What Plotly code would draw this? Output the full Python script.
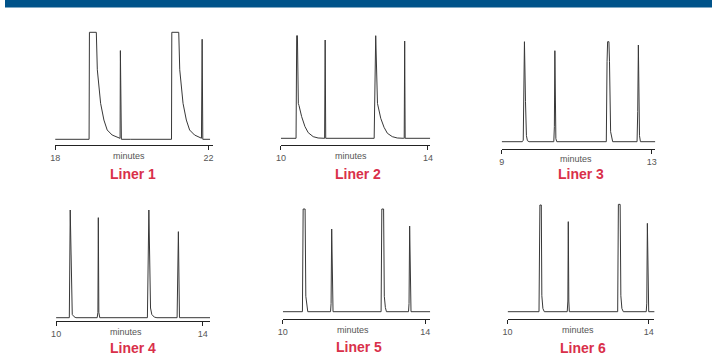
import plotly.graph_objects as go

W, H = 715, 359

# ---------------- data (minutes, relative detector signal) ----------------
liner1_t = [18.0, 18.886, 18.895, 19.075, 19.101, 19.144, 19.187, 19.273, 19.359, 19.488, 19.617, 19.677,
            19.695, 19.703, 19.712, 19.729, 19.961, 21.037, 21.045, 21.226, 21.252, 21.295, 21.338, 21.424,
            21.510, 21.639, 21.768, 21.819, 21.837, 21.845, 21.854, 22.043]
liner1_s = [0, 0, 100, 100, 65, 49, 33.6, 18, 8.7, 4, 1.9, 0.9,
            0.9, 82.9, 0.5, 0, 0, 0, 100, 100, 65, 49, 33.6, 18,
            8.7, 4, 1.9, 1, 93.5, 0.5, 0, 0]

liner2_t = [10.0, 10.413, 10.43, 10.45, 10.475, 10.493, 10.565, 10.655, 10.744, 10.879, 11.013, 11.175,
            11.19, 11.205, 11.22, 12.538, 12.56, 12.58, 12.628, 12.646, 12.717, 12.807, 12.897, 13.031,
            13.166, 13.34, 13.355, 13.368, 13.381, 14.063]
liner2_s = [0, 0, 100, 100, 34, 32, 21.1, 11.4, 5.5, 1.6, 0.3, 0,
            0, 95.8, 0, 0, 100, 100, 34, 31, 19.5, 10.7, 4.9, 1.6,
            0.3, 0, 0, 94.8, 0, 0]

liner3_t = [9.0, 9.55, 9.575, 9.582, 9.607, 9.635, 9.645, 9.66, 9.686, 9.73, 10.39, 10.405,
            10.418, 10.43, 10.445, 10.47, 11.79, 11.81, 11.825, 11.86, 11.875, 11.905, 11.93, 11.96,
            12.61, 12.628, 12.645, 12.66, 12.675, 12.70, 13.097]
liner3_s = [0, 0, 1.5, 40, 100, 40, 10, 6, 1, 0, 0, 15,
            91, 15, 3, 0, 0, 80, 100, 100, 80, 10, 4, 0,
            0, 30, 96.7, 30, 6, 0, 0]

liner4_t = [10.0, 10.36, 10.385, 10.41, 10.42, 10.44, 10.49, 10.54, 11.12, 11.14, 11.151, 11.165,
            11.19, 12.49, 12.53, 12.555, 12.575, 12.61, 12.68, 12.75, 13.30, 13.335, 13.365, 14.198]
liner4_s = [0, 0, 100, 40, 8.7, 3, 0.9, 0, 0, 5, 92.9, 5,
            0, 0, 100, 40, 9, 3, 0.5, 0, 0, 79.9, 0, 0]

liner5_t = [10.0, 10.55, 10.57, 10.625, 10.645, 10.67, 10.70, 11.34, 11.355, 11.372, 11.39, 11.41,
            12.76, 12.78, 12.83, 12.85, 12.88, 12.91, 13.53, 13.545, 13.562, 13.58, 13.60, 14.139]
liner5_s = [0, 0, 100, 100, 15, 4, 0, 0, 8, 80.5, 8, 0,
            0, 100, 100, 15, 4, 0, 0, 8, 83.4, 8, 0, 0]

liner6_t = [10.0, 10.89, 10.915, 10.955, 10.97, 11.0, 11.04, 11.69, 11.708, 11.72, 11.735, 11.75,
            13.12, 13.14, 13.19, 13.21, 13.24, 13.28, 13.93, 13.945, 13.962, 13.98, 14.0, 14.206]
liner6_s = [0, 0, 100, 100, 15, 3, 0, 0, 10, 84.4, 10, 0,
            0, 100.6, 100.6, 15, 3, 0, 0, 8, 82.8, 8, 0, 0]

liner_names = ["Liner 1", "Liner 2", "Liner 3", "Liner 4", "Liner 5", "Liner 6"]
tick_vals = [[18, 22], [10, 14], [9, 13], [10, 14], [10, 14], [10, 14]]
axis_label = "minutes"

series = [(liner1_t, liner1_s), (liner2_t, liner2_s), (liner3_t, liner3_s),
          (liner4_t, liner4_s), (liner5_t, liner5_s), (liner6_t, liner6_s)]

# ---------------- panel geometry (pixels) ----------------
geom = [
    dict(t0=50.7, t1=205.7, end=210.0, ax=145.0, base=139.3, top=32.3, lab=(125.0, 155.5), name=(129.0, 174.0)),
    dict(t0=279.0, t1=427.7, end=430.0, ax=145.0, base=138.3, top=35.7, lab=(350.0, 155.5), name=(356.7, 174.0)),
    dict(t0=502.3, t1=654.0, end=657.7, ax=149.3, base=141.7, top=41.7, lab=(577.0, 159.5), name=(582.3, 174.3)),
    dict(t0=51.7, t1=200.0, end=207.3, ax=321.0, base=317.7, top=210.0, lab=(122.7, 331.7), name=(129.0, 348.3)),
    dict(t0=281.0, t1=425.0, end=430.0, ax=319.0, base=311.7, top=209.0, lab=(352.3, 329.5), name=(358.3, 346.7)),
    dict(t0=508.3, t1=651.0, end=656.7, ax=319.0, base=311.7, top=205.0, lab=(579.3, 329.5), name=(585.0, 347.7)),
]

fig = go.Figure()
layout = dict(
    width=W, height=H, margin=dict(l=0, r=0, t=0, b=0),
    paper_bgcolor="white", plot_bgcolor="white", showlegend=False,
    font=dict(family="Liberation Sans, Arial, sans-serif"),
)
annotations = []
pad = 5.0
for i, ((t, s), g, tv, nm) in enumerate(zip(series, geom, tick_vals, liner_names)):
    k = "" if i == 0 else str(i + 1)
    fig.add_trace(go.Scatter(x=t, y=s, mode="lines", line=dict(color="#383838", width=1),
                             xaxis="x" + k, yaxis="y" + k, hoverinfo="skip", showlegend=False))
    a, b = tv
    xmax = a + (g["end"] - g["t0"]) / (g["t1"] - g["t0"]) * (b - a)
    span = g["base"] - g["top"]
    ymin = -(g["ax"] - g["base"]) / span * 100
    ymax = 100 + pad / span * 100
    layout["xaxis" + k] = dict(
        domain=[g["t0"] / W, g["end"] / W], range=[a, xmax], anchor="y" + k,
        showline=True, linecolor="#222", linewidth=1, ticks="outside", ticklen=4,
        tickcolor="#222", tickwidth=1, tickvals=tv, ticktext=[str(v) for v in tv],
        tickfont=dict(size=9, color="#555"), showgrid=False, zeroline=False, fixedrange=True,
    )
    layout["yaxis" + k] = dict(
        domain=[1 - g["ax"] / H, 1 - (g["top"] - pad) / H], range=[ymin, ymax], anchor="x" + k,
        visible=False, showgrid=False, zeroline=False, fixedrange=True,
    )
    annotations.append(dict(text=axis_label, x=g["lab"][0] / W, y=1 - g["lab"][1] / H, xref="paper", yref="paper",
                            xanchor="center", yanchor="middle", showarrow=False,
                            font=dict(size=9, color="#555")))
    annotations.append(dict(text="<b>" + nm + "</b>", x=g["name"][0] / W, y=1 - g["name"][1] / H,
                            xref="paper", yref="paper", xanchor="center", yanchor="middle", showarrow=False,
                            font=dict(size=14, color="#d9304a")))

layout["annotations"] = annotations
layout["shapes"] = [dict(type="rect", xref="paper", yref="paper", x0=0, x1=1, y0=1 - 7.5 / H, y1=1,
                         fillcolor="#00538a", line=dict(width=0), layer="above")]
fig.update_layout(**layout)
fig.write_html(
    "out.html",
    config={"displayModeBar": False},
    post_script="document.documentElement.style.margin='0';document.documentElement.style.padding='0';"
                "document.body.style.margin='0';document.body.style.padding='0';"
                "document.body.style.overflow='hidden';",
)
